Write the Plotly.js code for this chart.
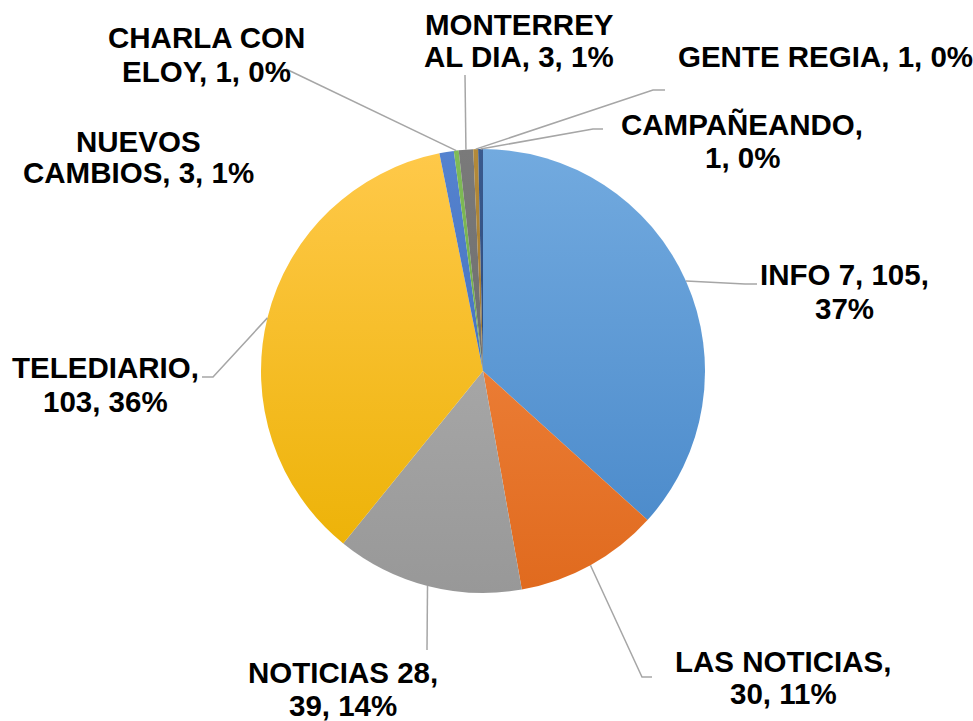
<!DOCTYPE html>
<html>
<head>
<meta charset="utf-8">
<script src="https://cdn.plot.ly/plotly-3.0.1.min.js"></script>
<style>html,body{margin:0;padding:0;background:#fff;}#chart{width:973px;height:721px;}</style>
</head>
<body>
<div id="chart"></div>
<script>
// ---- data ----
const categories = ["INFO 7", "LAS NOTICIAS", "NOTICIAS 28", "TELEDIARIO", "NUEVOS CAMBIOS",
                    "CHARLA CON ELOY", "MONTERREY AL DIA", "GENTE REGIA", "CAMPAÑEANDO"];
const values = [105, 30, 39, 103, 3, 1, 3, 1, 1];
const percentLabels = [37, 11, 14, 36, 1, 0, 1, 0, 0];
const colors = ["#5B9BD5", "#ED7D31", "#A5A5A5", "#FFC000", "#4472C4",
                "#70AD47", "#6E6E6E", "#A57B2B", "#2F4B7C"];
const colorsTop = ["#72AADF", "#F58E4A", "#B4B4B4", "#FFC94A", "#5583CF",
                   "#80BC57", "#7A7A7A", "#B38A3A", "#3A5A8E"];
const colorsBottom = ["#4686C8", "#E06A1E", "#989898", "#EBB000", "#3A64B3",
                      "#5F9A3A", "#626262", "#946B20", "#243D6A"];

// ---- layout helpers (pixel geometry of the page) ----
const W = 973, H = 721;
const CX = 483, CY = 371, R = 222;
const px = x => x / W;
const py = y => 1 - y / H;

// label placement: words before line break, line centres, leader elbow/end points
const labelLayout = [
  {brk: 3, x: 844, y: [274, 308], lead: [[745, 284], [757, 284]]},
  {brk: 2, x: 783, y: [661, 693], lead: [[642, 677], [652, 677]]},
  {brk: 2, x: 343, y: [672, 705], lead: [[427, 650]]},
  {brk: 1, x: 105, y: [367, 401], lead: [[213, 377], [202, 377]]},
  {brk: 1, x: 138, y: [141, 172], lead: null},
  {brk: 2, x: 206, y: [38, 72], lead: [[286, 69]]},
  {brk: 1, x: 519, y: [25, 57], lead: [[465, 75]]},
  {brk: 0, x: 825, y: [57], lead: [[653, 90], [665, 90]]},
  {brk: 1, x: 742, y: [124, 157], lead: [[593, 129], [603, 129]]}
];

const total = values.reduce((a, b) => a + b, 0);
const annotations = [];
const shapes = [];
let cum = 0;
values.forEach((v, i) => {
  const mid = (cum + v / 2) / total * 2 * Math.PI;
  cum += v;
  const full = `${categories[i]}, ${v}, ${percentLabels[i]}%`;
  const words = full.split(" ");
  const L = labelLayout[i];
  const lines = L.brk > 0 ? [words.slice(0, L.brk).join(" "), words.slice(L.brk).join(" ")] : [full];
  lines.forEach((t, k) => {
    annotations.push({
      xref: "paper", yref: "paper", x: px(L.x), y: py(L.y[k]),
      xanchor: "center", yanchor: "middle", showarrow: false, text: t,
      font: {family: "Liberation Sans, Arial, sans-serif", size: 29.5, color: "#000", weight: 700}
    });
  });
  if (L.lead) {
    const sx = CX + R * Math.sin(mid), sy = CY - R * Math.cos(mid);
    let path = `M ${px(sx)} ${py(sy)}`;
    L.lead.forEach(p => { path += ` L ${px(p[0])} ${py(p[1])}`; });
    shapes.push({type: "path", xref: "paper", yref: "paper", path: path,
                 line: {color: "#A6A6A6", width: 1.5}});
  }
});

const trace = {
  type: "pie",
  labels: categories,
  values: values,
  sort: false,
  direction: "clockwise",
  rotation: 0,
  textinfo: "none",
  hoverinfo: "label+value+percent",
  marker: {colors: colors, line: {width: 0}},
  domain: {x: [px(CX - R), px(CX + R)], y: [py(CY + R), py(CY - R)]},
  showlegend: false
};

const layout = {
  width: W, height: H,
  margin: {l: 0, r: 0, t: 0, b: 0},
  paper_bgcolor: "#fff",
  showlegend: false,
  annotations: annotations,
  shapes: shapes
};

Plotly.newPlot("chart", [trace], layout, {displayModeBar: false, staticPlot: true}).then(gd => {
  // soft vertical gradient on each slice, like the Office style of the reference
  const svg = gd.querySelector("svg.main-svg");
  const NS = "http://www.w3.org/2000/svg";
  const defs = svg.querySelector("defs") || svg.insertBefore(document.createElementNS(NS, "defs"), svg.firstChild);
  const svgTop = svg.getBoundingClientRect().top;
  const slices = gd.querySelectorAll("g.slice path.surface");
  slices.forEach((p, i) => {
    const idx = (p.__data__ && p.__data__.i !== undefined) ? p.__data__.i : i;
    const ctm = p.getCTM();
    const d = (ctm && ctm.d) ? ctm.d : 1;
    const f = ctm ? ctm.f : 0;
    const g = document.createElementNS(NS, "linearGradient");
    g.setAttribute("id", "slicegrad" + idx);
    g.setAttribute("gradientUnits", "userSpaceOnUse");
    g.setAttribute("x1", 0); g.setAttribute("x2", 0);
    g.setAttribute("y1", (CY - R - f) / d); g.setAttribute("y2", (CY + R - f) / d);
    [[0, colorsTop[idx]], [1, colorsBottom[idx]]].forEach(([o, c]) => {
      const s = document.createElementNS(NS, "stop");
      s.setAttribute("offset", o); s.setAttribute("stop-color", c);
      g.appendChild(s);
    });
    defs.appendChild(g);
    p.style.fill = "url(#slicegrad" + idx + ")";
  });
});
</script>
</body>
</html>
